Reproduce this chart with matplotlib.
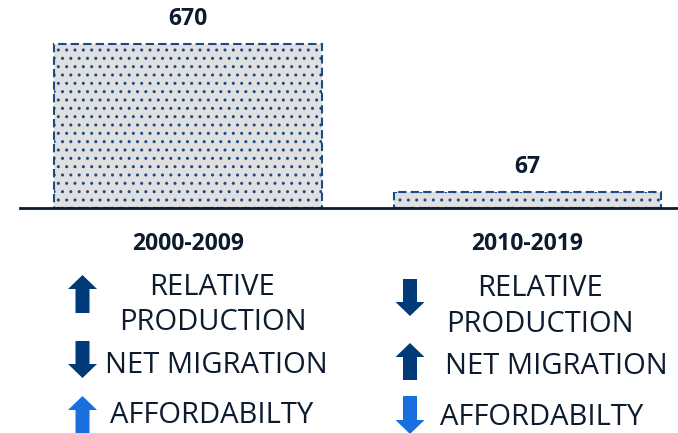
import matplotlib
matplotlib.use("Agg")
import matplotlib.pyplot as plt

plt.rcParams['font.family'] = ['Open Sans', 'DejaVu Sans']
plt.rcParams['hatch.linewidth'] = 1.0

periods = ['2000-2009', '2010-2019']
values = [670, 67]
labels = ['670', '67']

indicators = ['RELATIVE\nPRODUCTION', 'NET MIGRATION', 'AFFORDABILTY']
directions = [['up', 'down', 'up'], ['down', 'up', 'down']]

text_col = '#0c1b2e'
edge_col = '#1b4a85'
dark_arrow = '#003a78'
light_arrow = '#1a6fdf'

fig = plt.figure(figsize=(6.78, 4.33), dpi=100)

# bar area, pixel-based placement
W, H = 678, 433
ax = fig.add_axes([20 / W, 225 / H, 658 / W, 208 / H])
x = [0, 1]
ax.bar(x, values, width=0.788, color='#e0e0e0', edgecolor=edge_col,
       linewidth=1.5, linestyle=(0, (4, 2)), hatch='..')
ax.set_xlim(-0.4956, 1.445)
ax.set_ylim(0, 849.8)
ax.axhline(0, color=text_col, lw=2, clip_on=False)
ax.axis('off')

for xi, v, lab in zip(x, values, labels):
    ax.annotate(lab, (xi, v), xytext=(0, 13.4), textcoords='offset points',
                ha='center', va='baseline', fontsize=16.5, fontweight='bold',
                color=text_col)
for xi, p in zip(x, periods):
    ax.annotate(p, (xi, 0), xytext=(0, -30.2), textcoords='offset points',
                ha='center', va='baseline', fontsize=16.5, fontweight='bold',
                color=text_col, annotation_clip=False)

# overlay in pixel coordinates for the arrows and indicator text
ov = fig.add_axes([0, 0, 1, 1])
ov.set_xlim(0, W)
ov.set_ylim(H, 0)
ov.axis('off')

arrow_x = [82.5, 410]
arrow_rows = [(275, 313), (341, 378), (396, 435)]  # (top, bottom)
arrow_rows_r = [(279, 316), (343, 380), (396, 434)]
for col, (ax_x, dirs) in enumerate(zip(arrow_x, directions)):
    rows = arrow_rows if col == 0 else arrow_rows_r
    for i, (d, (top, bot)) in enumerate(zip(dirs, rows)):
        c = light_arrow if i == 2 else dark_arrow
        if d == 'up':
            y0, dy = bot, top - bot
        else:
            y0, dy = top, bot - top
        ov.arrow(ax_x, y0, 0, dy, width=14, head_width=29, head_length=14,
                 length_includes_head=True, color=c, lw=0)

fs = 21
# left column
ov.text(212, 295, 'RELATIVE', ha='center', va='baseline', fontsize=fs, color=text_col)
ov.text(213, 330, 'PRODUCTION', ha='center', va='baseline', fontsize=fs, color=text_col)
ov.text(105, 373, indicators[1], ha='left', va='baseline', fontsize=fs, color=text_col)
ov.text(110, 423, indicators[2], ha='left', va='baseline', fontsize=fs, color=text_col)
# right column
ov.text(540, 296, 'RELATIVE', ha='center', va='baseline', fontsize=fs, color=text_col)
ov.text(540, 332, 'PRODUCTION', ha='center', va='baseline', fontsize=fs, color=text_col)
ov.text(445, 374, indicators[1], ha='left', va='baseline', fontsize=fs, color=text_col)
ov.text(440, 425, indicators[2], ha='left', va='baseline', fontsize=fs, color=text_col)

fig.savefig('out.png', dpi=100)
